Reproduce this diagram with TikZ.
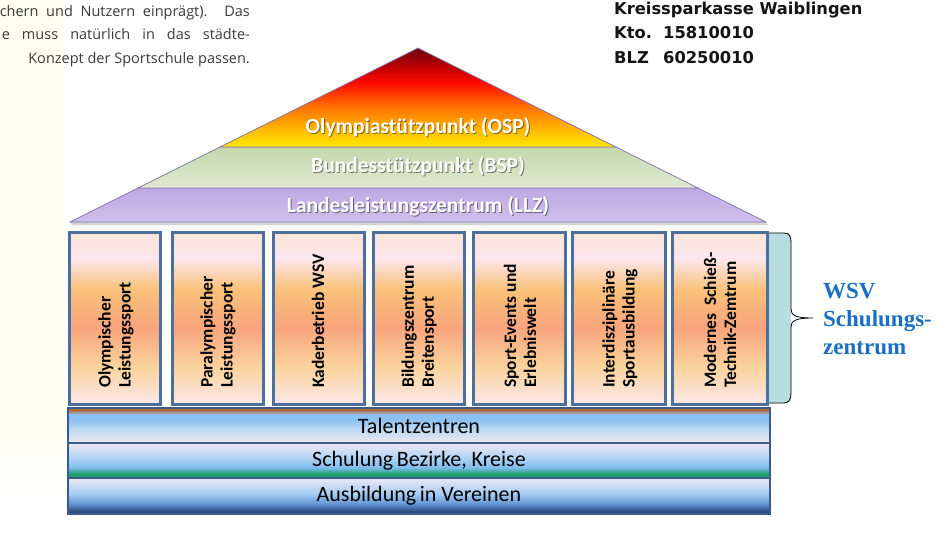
\documentclass[tikz,border=0pt]{standalone}
\usepackage{fontspec}
\setmainfont{Carlito}
\newfontfamily\wsvfont{Liberation Serif}
\newfontfamily\topfont{Open Sans}
\newfontfamily\bankfont{DejaVu Sans}
% pillar colours (top -> bottom)
\definecolor{plA}{HTML}{FCE4D6}
\definecolor{plB}{HTML}{FDE6EE}
\definecolor{plC}{HTML}{F9C27A}
\definecolor{plD}{HTML}{F8A47C}
\definecolor{plE}{HTML}{FAD39C}
\definecolor{plF}{HTML}{FDE8EA}
% OSP
\definecolor{oA}{HTML}{700010}
\definecolor{oB}{HTML}{C00000}
\definecolor{oC}{HTML}{FF0A00}
\definecolor{oD}{HTML}{FF7400}
\definecolor{oE}{HTML}{FFC000}
\definecolor{oF}{HTML}{FFE800}
% BSP / LLZ
\definecolor{bA}{HTML}{C4D8AA}
\definecolor{bB}{HTML}{DFEAD2}
\definecolor{lA}{HTML}{BEA8E2}
\definecolor{lB}{HTML}{D0C0EC}
% bands
\definecolor{tA}{HTML}{B5683A}
\definecolor{tB}{HTML}{8CC2F2}
\definecolor{tC}{HTML}{BCD8F2}
\definecolor{tD}{HTML}{EEE8F2}
\definecolor{sA}{HTML}{EEE8F4}
\definecolor{sB}{HTML}{B0D4F4}
\definecolor{sC}{HTML}{80BCF0}
\definecolor{sD}{HTML}{1FA070}
\definecolor{aA}{HTML}{EEE8F4}
\definecolor{aB}{HTML}{A0CAF2}
\definecolor{aC}{HTML}{5E8ED0}
\definecolor{aD}{HTML}{2C4C7C}
\definecolor{pillarline}{HTML}{4C6F9E}
\definecolor{bandline}{HTML}{3B5B8C}
\definecolor{pyrline}{HTML}{8A7AB0}
\definecolor{wsvpanel}{HTML}{B8DDE0}
\definecolor{wsvblue}{HTML}{1B6FC2}
\definecolor{ivory}{HTML}{FFFEF0}
\definecolor{toptext}{HTML}{3A3A3A}
\definecolor{banktext}{HTML}{141414}
\pgfdeclareverticalshading{pillarshade}{100bp}{color(0bp)=(plF); color(25bp)=(plF); color(36bp)=(plE); color(47.5bp)=(plD); color(58.5bp)=(plC); color(67.5bp)=(plB); color(75bp)=(plA); color(100bp)=(plA)}
\pgfdeclareverticalshading{ospshade}{100bp}{color(0bp)=(oF); color(25bp)=(oF); color(32.5bp)=(oE); color(45bp)=(oD); color(57.5bp)=(oC); color(65bp)=(oB); color(75bp)=(oA); color(100bp)=(oA)}
\pgfdeclareverticalshading{bspshade}{100bp}{color(0bp)=(bB); color(25bp)=(bB); color(75bp)=(bA); color(100bp)=(bA)}
\pgfdeclareverticalshading{llzshade}{100bp}{color(0bp)=(lB); color(25bp)=(lB); color(75bp)=(lA); color(100bp)=(lA)}
\pgfdeclareverticalshading{talshade}{100bp}{color(0bp)=(tD); color(25bp)=(tD); color(45bp)=(tC); color(58bp)=(tB); color(66bp)=(tB); color(72bp)=(tA); color(75bp)=(tA); color(100bp)=(tA)}
\pgfdeclareverticalshading{schshade}{100bp}{color(0bp)=(sD); color(25bp)=(sD); color(31bp)=(sD); color(40bp)=(sC); color(54bp)=(sB); color(75bp)=(sA); color(100bp)=(sA)}
\pgfdeclareverticalshading{ausshade}{100bp}{color(0bp)=(aD); color(25bp)=(aD); color(29bp)=(aD); color(38bp)=(aC); color(52bp)=(aB); color(75bp)=(aA); color(100bp)=(aA)}
\tikzset{
  pillarbox/.style={draw=pillarline, line width=3pt, shade, shading=pillarshade,
    minimum width=91, minimum height=172, inner sep=0pt},
  ptext/.style={rotate=90, anchor=west, align=left, inner sep=0pt,
    font=\bfseries\fontsize{17.5}{20}\selectfont},
  bandbox/.style={draw=bandline, line width=1.5pt, shade,
    minimum width=702, minimum height=35, inner sep=0pt,
    font=\fontsize{22}{22}\selectfont},
  plabel/.style={text=white, inner sep=0pt, font=\bfseries\fontsize{21.5}{21.5}\selectfont},
  pshadow/.style={text=black, opacity=0.45, inner sep=0pt, font=\bfseries\fontsize{21.5}{21.5}\selectfont},
  topt/.style={text=toptext, inner sep=0pt, anchor=base east, font=\topfont\fontsize{14.5}{14.5}\selectfont},
  bankt/.style={text=banktext, inner sep=0pt, anchor=base west, font=\bankfont\bfseries\fontsize{16.3}{16.3}\selectfont},
}
\begin{document}
\begin{tikzpicture}[x=1pt, y=-1pt]
\useasboundingbox[fill=white] (0,0) rectangle (948,558);
% pale left margin
\fill[ivory] (0,0) rectangle (63,430);
\fill[top color=ivory, bottom color=white, draw=none] (0,430) rectangle (63,500);
% top texts
\node[topt] (tl1) at (250,16) {\makebox[250pt][s]{chern und Nutzern einprägt). Das}};
\node[topt] (tl2) at (250,39) {\makebox[248pt][s]{e muss natürlich in das städte-}};
\node[topt] (tl3) at (250,63) {Konzept der Sportschule passen.};
\node[bankt] (bk1) at (614,14) {Kreissparkasse Waiblingen};
\node[bankt] (bk2) at (614,38) {\makebox[49pt][l]{Kto.}15810010};
\node[bankt] (bk3) at (614,63) {\makebox[49pt][l]{BLZ}60250010};
% pyramid
\fill[gray!35] (72,225) -- (768,225) -- (766,222) -- (70,222) -- cycle;
\path[shade, shading=llzshade, draw=pyrline, line width=0.8pt] (138,188) -- (698,188) -- (766,222) -- (70,222) -- cycle;
\path[shade, shading=bspshade, draw=pyrline, line width=0.8pt] (220,147) -- (616,147) -- (698,188) -- (138,188) -- cycle;
\path[shade, shading=ospshade, draw=pyrline, line width=0.8pt] (418,48) -- (616,147) -- (220,147) -- cycle;
\node[pshadow] (ospS) at (419,128) {Olympiastützpunkt (OSP)};
\node[plabel] (osp) at (418,127) {Olympiastützpunkt (OSP)};
\node[pshadow] (bspS) at (419,167) {Bundesstützpunkt (BSP)};
\node[plabel] (bsp) at (418,166) {Bundesstützpunkt (BSP)};
\node[pshadow] (llzS) at (419,207) {Landesleistungszentrum (LLZ)};
\node[plabel] (llz) at (418,206) {Landesleistungszentrum (LLZ)};
% WSV panel and brace
\fill[wsvpanel, rounded corners=4pt] (764,233) rectangle (791,403);
\coordinate (bt) at (813,318);
\draw[line width=0.8pt] (769,233) -- (784,233) .. controls (789,233) and (791,236) .. (791,242) -- (791,309) .. controls (791,315) and (795,318) .. (bt) .. controls (795,318) and (791,321) .. (791,327) -- (791,393) .. controls (791,399) and (789,403) .. (784,403) -- (769,403);
\node[text=wsvblue, anchor=base west, align=left, inner sep=0pt, font=\wsvfont\bfseries\fontsize{23}{28}\selectfont] (wsv) at (823,354) {WSV\\Schulungs-\\zentrum};
% pillars
\node[pillarbox] (p1) at (115,318.5) {};
\node[pillarbox] (p2) at (217.5,318.5) {};
\node[pillarbox] (p3) at (318.5,318.5) {};
\node[pillarbox] (p4) at (419,318.5) {};
\node[pillarbox, minimum width=92] (p5) at (519.5,318.5) {};
\node[pillarbox, minimum width=93] (p6) at (619,318.5) {};
\node[pillarbox, minimum width=95] (p7) at (720,318.5) {};
\node[ptext] (t1) at (116,388) {Olympischer\\Leistungssport};
\node[ptext] (t2) at (218,388) {Paralympischer\\Leistungssport};
\node[ptext] (t3) at (318,388) {Kaderbetrieb WSV};
\node[ptext] (t4) at (419,388) {Bildungszentrum\\Breitensport};
\node[ptext] (t5) at (520,388) {Sport-Events und\\Erlebniswelt};
\node[ptext] (t6) at (620,388) {Interdisziplinäre\\Sportausbildung};
\node[ptext] (t7) at (720,388) {Modernes\ \ Schieß-\\Technik-Zemtrum};
% bands
\node[bandbox, shading=talshade] (tal) at (419,425.5) {Talentzentren};
\node[bandbox, shading=schshade] (sch) at (419,460.5) {Schulung\,Bezirke, Kreise};
\node[bandbox, shading=ausshade, minimum height=36] (aus) at (419,496) {Ausbildung\,in Vereinen};
\end{tikzpicture}
\end{document}
